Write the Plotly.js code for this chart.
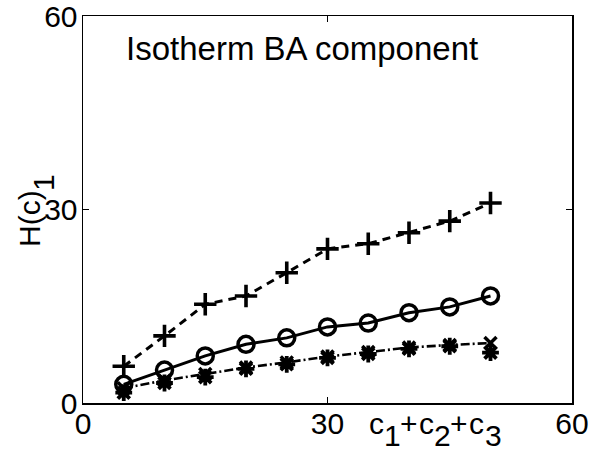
<!DOCTYPE html>
<html>
<head>
<meta charset="utf-8">
<script src="https://cdn.plot.ly/plotly-3.0.1.min.js"></script>
<style>html,body{margin:0;padding:0;background:#fff;}#chart{width:593px;height:453px;}</style>
</head>
<body>
<div id="chart"></div>
<script>
var xVals = [5, 10, 15, 20, 25, 30, 35, 40, 45, 50];
var plusVals = [5.7, 10.4, 15.3, 16.6, 20.2, 23.9, 24.7, 26.4, 28.2, 31.0];
var circleVals = [2.9, 5.1, 7.3, 9.1, 10.1, 11.8, 12.4, 14.0, 14.9, 16.6];
var xMarkVals = [2.3, 3.5, 4.5, 5.5, 6.3, 7.2, 7.9, 8.6, 9.0, 9.3];
var starVals = [1.6, 3.1, 4.0, 5.3, 6.0, 7.0, 7.6, 8.4, 8.8, 7.8];
var tickVals = [0, 30, 60];
var tickText = ['0', '30', '60'];
var titleText = 'Isotherm BA component';
// axis labels, split into base text and (full-size, lowered) subscripts
var yLabelBase = 'H(c)';
var yLabelSubs = ['1'];
var xLabelBase = ['c', '+', 'c', '+', 'c'];
var xLabelSubs = ['1', '2', '3'];

var FONT = 'Liberation Sans, Arial, sans-serif';
var BLACK = '#000';

var traces = [
  {x: xVals, y: plusVals, mode: 'lines+markers', type: 'scatter',
   line: {color: BLACK, width: 3, dash: '8px,6px'},
   marker: {symbol: 'cross-thin-open', size: 16, color: BLACK, line: {color: BLACK, width: 3.6}}},
  {x: xVals, y: circleVals, mode: 'lines+markers', type: 'scatter',
   line: {color: BLACK, width: 3},
   marker: {symbol: 'circle-open', size: 16, color: BLACK, line: {color: BLACK, width: 3.5}}},
  {x: xVals, y: xMarkVals, mode: 'lines+markers', type: 'scatter',
   line: {color: BLACK, width: 2.6, dash: '9px,3px,2px,3px'},
   marker: {symbol: 'x-thin-open', size: 12, color: BLACK, line: {color: BLACK, width: 3.5}}},
  {x: xVals, y: starVals, mode: 'markers', type: 'scatter',
   marker: {symbol: 'asterisk-open', size: 14, color: BLACK, line: {color: BLACK, width: 3.8}}}
];

var axisCommon = {
  range: [0, 60], tickvals: tickVals, ticktext: tickText,
  showline: true, linecolor: BLACK, linewidth: 1.5, mirror: 'ticks',
  ticks: 'inside', ticklen: 6, tickwidth: 1, tickcolor: BLACK,
  showgrid: false, zeroline: false, fixedrange: true,
  ticklabeloverflow: 'allow',
  tickfont: {family: FONT, size: 30, color: BLACK}
};

// pixel placement helper relative to the plot's bottom-left corner
var ML = 83, MB = 50, H = 453;
function txt(text, px, py, angle) {
  return {text: text, xref: 'paper', yref: 'paper', x: 0, y: 0,
    xshift: px - ML, yshift: (H - MB) - py, xanchor: 'center', yanchor: 'middle',
    textangle: angle || 0, showarrow: false, borderpad: 0,
    font: {family: FONT, size: 30, color: BLACK}};
}

var anns = [
  {text: titleText, xref: 'paper', yref: 'paper', x: 0.084, y: 0.915, xanchor: 'left', yanchor: 'middle',
   showarrow: false, font: {family: FONT, size: 33, color: BLACK}},
  txt(yLabelBase, 29, 219, -90),
  txt(yLabelSubs[0], 43, 183, -90)
];
var basePx = [376, 409, 426, 459, 476];
var subPx = [392, 442, 493];
xLabelBase.forEach(function (t, i) { anns.push(txt(t, basePx[i], 423)); });
xLabelSubs.forEach(function (t, i) { anns.push(txt(t, subPx[i], 435)); });

var layout = {
  width: 593, height: 453,
  margin: {l: ML, r: 21, t: 16, b: MB},
  paper_bgcolor: '#fff', plot_bgcolor: '#fff',
  showlegend: false,
  xaxis: Object.assign({}, axisCommon, {ticklabelstandoff: -7}),
  yaxis: Object.assign({}, axisCommon, {ticklabelstandoff: -2}),
  annotations: anns
};

Plotly.newPlot('chart', traces, layout, {staticPlot: true, displayModeBar: false});
</script>
</body>
</html>
